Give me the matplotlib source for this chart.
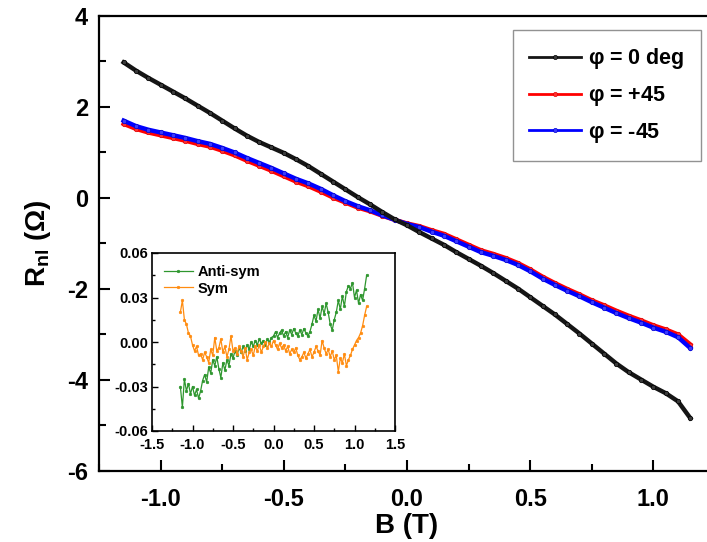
import matplotlib
matplotlib.use("Agg")
import matplotlib.pyplot as plt
from matplotlib.ticker import MultipleLocator

plt.rcParams['font.family'] = ['Liberation Sans', 'DejaVu Sans']
plt.rcParams['font.weight'] = 'bold'
plt.rcParams['axes.labelweight'] = 'bold'
plt.rcParams['axes.unicode_minus'] = False
plt.rcParams['mathtext.fontset'] = 'custom'
plt.rcParams['mathtext.rm'] = 'Liberation Sans:bold'
plt.rcParams['mathtext.bf'] = 'Liberation Sans:bold'
plt.rcParams['mathtext.it'] = 'Liberation Sans:bold'

# field sweep (T) for the main traces
b_main = [-1.15, -1.10, -1.05, -1.00, -0.95, -0.90, -0.85, -0.80, -0.75, -0.70,
          -0.65, -0.60, -0.55, -0.50, -0.45, -0.40, -0.35, -0.30, -0.25, -0.20,
          -0.15, -0.10, -0.05, 0.00, 0.05, 0.10, 0.15, 0.20, 0.25, 0.30,
          0.35, 0.40, 0.45, 0.50, 0.55, 0.60, 0.65, 0.70, 0.75, 0.80,
          0.85, 0.90, 0.95, 1.00, 1.05, 1.10, 1.15]

r_phi0 = [2.98, 2.80, 2.64, 2.49, 2.34, 2.19, 2.03, 1.87, 1.70, 1.53,
          1.37, 1.23, 1.11, 0.99, 0.85, 0.70, 0.53, 0.36, 0.19, 0.02,
          -0.14, -0.31, -0.47, -0.60, -0.75, -0.89, -1.03, -1.19, -1.34, -1.49,
          -1.65, -1.82, -1.99, -2.18, -2.37, -2.56, -2.77, -2.98, -3.20, -3.42,
          -3.64, -3.83, -3.99, -4.15, -4.29, -4.47, -4.84]

r_plus45 = [1.63, 1.52, 1.44, 1.38, 1.32, 1.26, 1.19, 1.13, 1.04, 0.94,
            0.82, 0.71, 0.60, 0.48, 0.36, 0.26, 0.14, 0.01, -0.10, -0.21,
            -0.29, -0.39, -0.48, -0.56, -0.62, -0.71, -0.79, -0.91, -1.03, -1.15,
            -1.23, -1.32, -1.43, -1.57, -1.73, -1.87, -2.00, -2.12, -2.25, -2.36,
            -2.48, -2.59, -2.69, -2.80, -2.89, -3.00, -3.22]

r_minus45 = [1.70, 1.58, 1.50, 1.44, 1.38, 1.32, 1.25, 1.19, 1.10, 1.00,
             0.88, 0.77, 0.66, 0.54, 0.42, 0.32, 0.20, 0.06, -0.07, -0.18,
             -0.27, -0.38, -0.48, -0.57, -0.64, -0.74, -0.83, -0.95, -1.07, -1.19,
             -1.27, -1.36, -1.47, -1.61, -1.77, -1.91, -2.04, -2.16, -2.29, -2.41,
             -2.53, -2.64, -2.74, -2.85, -2.94, -3.06, -3.30]

# inset: antisymmetric / symmetric parts
b_inset = [-1.150, -1.125, -1.100, -1.075, -1.050, -1.025, -1.000, -0.975, -0.950, -0.925,
           -0.900, -0.875, -0.850, -0.825, -0.800, -0.775, -0.750, -0.725, -0.700, -0.675,
           -0.650, -0.625, -0.600, -0.575, -0.550, -0.525, -0.500, -0.475, -0.450, -0.425,
           -0.400, -0.375, -0.350, -0.325, -0.300, -0.275, -0.250, -0.225, -0.200, -0.175,
           -0.150, -0.125, -0.100, -0.075, -0.050, -0.025, 0.000, 0.025, 0.050, 0.075,
           0.100, 0.125, 0.150, 0.175, 0.200, 0.225, 0.250, 0.275, 0.300, 0.325,
           0.350, 0.375, 0.400, 0.425, 0.450, 0.475, 0.500, 0.525, 0.550, 0.575,
           0.600, 0.625, 0.650, 0.675, 0.700, 0.725, 0.750, 0.775, 0.800, 0.825,
           0.850, 0.875, 0.900, 0.925, 0.950, 0.975, 1.000, 1.025, 1.050, 1.075,
           1.100, 1.125, 1.150]

anti_sym = [-0.030, -0.044, -0.025, -0.033, -0.028, -0.035, -0.030, -0.036, -0.032, -0.038,
            -0.033, -0.026, -0.022, -0.027, -0.017, -0.021, -0.012, -0.016, -0.010, -0.018,
            -0.024, -0.014, -0.019, -0.012, -0.016, -0.008, -0.011, -0.006, -0.009, -0.004,
            -0.007, -0.003, -0.006, -0.002, -0.005, 0.000, -0.003, 0.001, -0.002, 0.002,
            -0.001, 0.001, -0.002, 0.002, 0.000, 0.003, 0.004, 0.007, 0.003, 0.006,
            0.008, 0.004, 0.007, 0.003, 0.008, 0.005, 0.009, 0.006, 0.004, 0.008,
            0.005, 0.009, 0.006, 0.004, 0.007, 0.012, 0.018, 0.014, 0.022, 0.016,
            0.024, 0.019, 0.026, 0.020, 0.012, 0.008, 0.015, 0.020, 0.028, 0.022,
            0.031, 0.024, 0.034, 0.038, 0.036, 0.040, 0.030, 0.035, 0.026, 0.032,
            0.028, 0.036, 0.045]

sym = [0.020, 0.028, 0.015, 0.012, 0.006, 0.004, -0.002, -0.006, -0.003, -0.009,
       -0.008, -0.012, -0.007, -0.010, -0.014, -0.005, -0.009, 0.003, -0.006, -0.004,
       0.002, -0.007, -0.003, -0.010, -0.005, 0.004, -0.006, -0.004, -0.008, -0.003,
       -0.006, -0.010, -0.004, -0.012, -0.007, -0.005, -0.009, -0.003, -0.006, -0.002,
       -0.007, -0.003, 0.000, -0.004, -0.001, -0.003, 0.001, -0.002, -0.005, -0.001,
       -0.004, -0.002, -0.006, -0.003, -0.008, -0.005, -0.007, -0.004, -0.009, -0.012,
       -0.010, -0.007, -0.011, -0.008, -0.005, -0.010, -0.007, -0.003, -0.006, -0.009,
       0.001, -0.004, -0.008, -0.005, -0.010, -0.006, -0.012, -0.009, -0.020, -0.011,
       -0.014, -0.008, -0.016, -0.012, -0.009, -0.005, -0.002, 0.001, 0.003, 0.006,
       0.011, 0.018, 0.024]

fig = plt.figure(figsize=(7.07, 5.42), dpi=100)
# main frame runs a little past the right edge of the canvas
ax = fig.add_axes([99 / 707, 1 - 471 / 542, 616 / 707, 455 / 542])

ax.plot(b_main, r_plus45, color='#ff0000', lw=3.2, marker='o', ms=3.2, mew=0.5,
        mfc='#ff3030', mec='#e00000', label=r'$\varphi$ = +45', zorder=2)
ax.plot(b_main, r_minus45, color='#0000ff', lw=3.2, marker='o', ms=3.2, mew=0.5,
        mfc='#3a3aff', mec='#0000d0', label=r'$\varphi$ = -45', zorder=3)
ax.plot(b_main, r_phi0, color='#151515', lw=3.2, marker='o', ms=3.2, mew=0.5,
        mfc='#3a3a3a', mec='#000000', label=r'$\varphi$ = 0 deg', zorder=4)

ax.set_xlim(-1.25, 1.25)
ax.set_ylim(-6, 4)
ax.xaxis.set_major_locator(MultipleLocator(0.5))
ax.xaxis.set_minor_locator(MultipleLocator(0.25))
ax.yaxis.set_major_locator(MultipleLocator(2))
ax.yaxis.set_minor_locator(MultipleLocator(1))
ax.tick_params(which='both', direction='in', width=1.5, labelsize=17)
ax.tick_params(which='major', length=8)
ax.tick_params(axis='x', which='major', pad=12)
ax.tick_params(axis='y', which='major', pad=8)
ax.tick_params(which='minor', length=5)
for s in ax.spines.values():
    s.set_linewidth(1.6)

ax.set_xlabel('B (T)', fontsize=20, labelpad=2)
ax.set_ylabel(r'R$_{\mathbf{nl}}$ ($\Omega$)', fontsize=20, labelpad=10)

handles, labels = ax.get_legend_handles_labels()
order = [2, 0, 1]
leg = ax.legend([handles[i] for i in order], [labels[i] for i in order],
                loc='upper right', bbox_to_anchor=(701 / 707, 1 - 30 / 542),
                bbox_transform=fig.transFigure, fontsize=15.5, frameon=True,
                fancybox=False, edgecolor='#777777', handlelength=2.4,
                handletextpad=0.35, labelspacing=0.6, borderpad=0.75,
                borderaxespad=0)
leg.get_frame().set_linewidth(1.0)
for h in leg.legend_handles:
    h.set_linewidth(2)
    h.set_markersize(3)

# inset
axin = fig.add_axes([152 / 707, 1 - 431 / 542, 243 / 707, 178 / 542])
axin.plot(b_inset, anti_sym, color='#2e962e', lw=0.9, marker='o', ms=1.8,
          mew=0.5, label='Anti-sym')
axin.plot(b_inset, sym, color='#ff8c10', lw=0.9, marker='o', ms=1.8,
          mew=0.5, label='Sym')
axin.set_xlim(-1.5, 1.5)
axin.set_ylim(-0.06, 0.06)
axin.xaxis.set_major_locator(MultipleLocator(0.5))
axin.xaxis.set_minor_locator(MultipleLocator(0.25))
axin.yaxis.set_major_locator(MultipleLocator(0.03))
axin.yaxis.set_minor_locator(MultipleLocator(0.015))
axin.yaxis.set_major_formatter(plt.FormatStrFormatter('%.2f'))
axin.xaxis.set_major_formatter(plt.FormatStrFormatter('%.1f'))
axin.tick_params(which='both', direction='in', width=1, labelsize=10.5)
axin.tick_params(axis='x', pad=5)
axin.tick_params(axis='y', pad=3)
axin.tick_params(which='major', length=4)
axin.tick_params(which='minor', length=2.5)
for s in axin.spines.values():
    s.set_linewidth(1.2)
axin.legend(loc='upper left', frameon=False, fontsize=10.5, handlelength=2.0,
            handletextpad=0.3, labelspacing=0.2, borderaxespad=0.4)

fig.savefig('out.png', dpi=100)
